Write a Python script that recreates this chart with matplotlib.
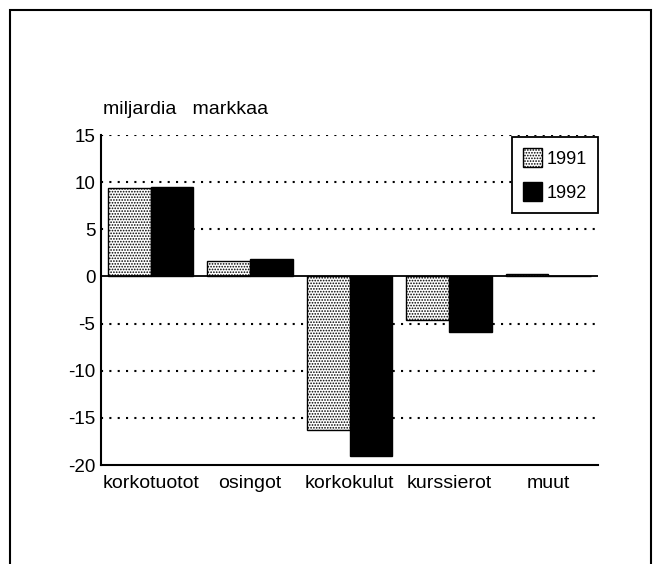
import matplotlib
matplotlib.use("Agg")
import matplotlib.pyplot as plt
import numpy as np
from matplotlib.patches import Rectangle, Patch

categories = ["korkotuotot", "osingot", "korkokulut", "kurssierot", "muut"]
years = ["1991", "1992"]
values_1991 = [9.4, 1.6, -16.3, -4.6, 0.3]
values_1992 = [9.5, 1.9, -19.0, -5.9, 0.0]

plt.rcParams["font.family"] = ["Liberation Sans", "DejaVu Sans"]
plt.rcParams["axes.unicode_minus"] = False
plt.rcParams["hatch.linewidth"] = 0.8

fig = plt.figure(figsize=(6.62, 5.64), dpi=100)

# outer frame around the whole chart
fig.patches.append(Rectangle((10 / 662, -0.05), 641 / 662, 1 - 10 / 564 + 0.05,
                             transform=fig.transFigure, fill=False,
                             edgecolor="black", linewidth=1.5))

ax = fig.add_axes([101 / 662, 1 - 465 / 564, 497 / 662, 330 / 564])

x = np.arange(len(categories))
w = 0.43
ax.bar(x - w / 2, values_1991, w, facecolor="white", edgecolor="black",
       hatch="......", linewidth=1.0, zorder=3)
ax.bar(x + w / 2, values_1992, w, facecolor="black", edgecolor="black",
       linewidth=1.0, zorder=3)

ax.set_xlim(-0.5, len(categories) - 0.5)
ax.set_ylim(-20, 15)
ax.set_yticks(range(-20, 16, 5))
ax.set_xticks(x)
ax.set_xticklabels(categories, fontsize=14)

for v in [15, 10, 5, -5, -10, -15]:
    ax.axhline(v, color="black", linewidth=1.5, linestyle=(0, (1, 3)), zorder=1)
ax.axhline(0, color="black", linewidth=1.3, zorder=4)

for s in ["top", "right"]:
    ax.spines[s].set_visible(False)
for s in ["left", "bottom"]:
    ax.spines[s].set_linewidth(1.5)
ax.tick_params(axis="both", length=0)
ax.tick_params(axis="y", pad=4, labelsize=13.5)
ax.tick_params(axis="x", pad=7)

fig.text(103 / 662, 1 - 118 / 564, "miljardia   markkaa",
         fontsize=14, ha="left", va="bottom")

handles = [Patch(facecolor="white", edgecolor="black", hatch="......"),
           Patch(facecolor="black", edgecolor="black")]
leg = ax.legend(handles, years, loc="upper right", bbox_to_anchor=(1.0, 0.993),
                borderaxespad=0, fontsize=13, fancybox=False, framealpha=1,
                edgecolor="black", handlelength=1.05, handleheight=1.25,
                labelspacing=0.8, handletextpad=0.3, borderpad=0.6)
leg.get_frame().set_linewidth(1.3)

fig.savefig("out.png", dpi=100)
